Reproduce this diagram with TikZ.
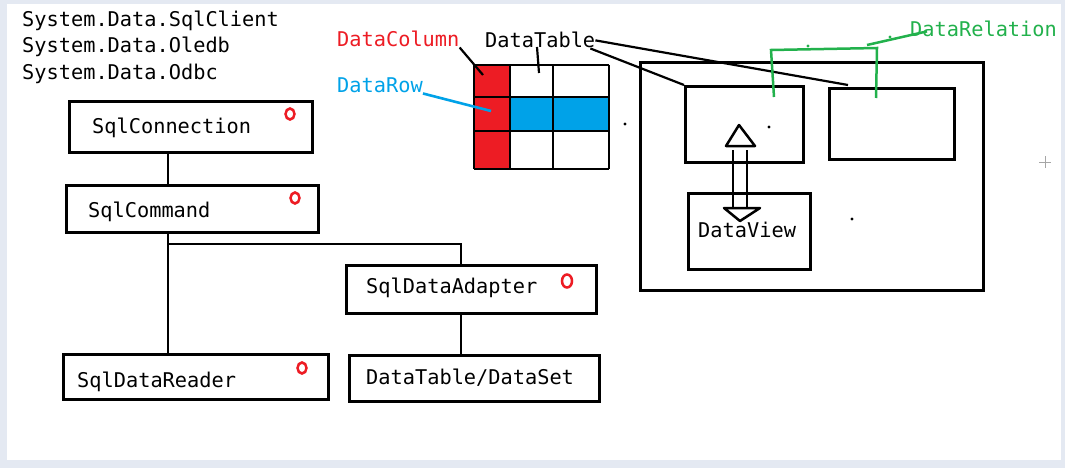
\documentclass[tikz,border=0pt]{standalone}
\usepackage{xcolor}
\usepackage{fontspec}
\usepackage{tikz}
\usetikzlibrary{calc}
\setmonofont{DejaVu Sans Mono}

\definecolor{pred}{RGB}{237,28,36}
\definecolor{pblue}{RGB}{0,162,232}
\definecolor{pgreen}{RGB}{34,177,76}
\definecolor{frame}{RGB}{228,233,242}

\tikzset{
  box/.style={draw=black, line width=2.9pt, anchor=north west, inner sep=0pt},
  txt/.style={anchor=base west, inner sep=0pt, font=\fontsize{20.3}{24}\selectfont\ttfamily},
  wire/.style={line width=2.9pt},
  ocirc/.style={draw=pred, line width=2.5pt},
}

\begin{document}
\begin{tikzpicture}[x=1pt,y=-1pt]
    \useasboundingbox (0,0) rectangle (1065,468);
    \fill[frame] (0,0) rectangle (1065,468);
    \fill[white] (7,4) rectangle (1061,460);

    % namespaces
    \node[txt] (ns1) at (22,27) {System.Data.SqlClient};
    \node[txt] (ns2) at (22,53) {System.Data.Oledb};
    \node[txt] (ns3) at (22,80) {System.Data.Odbc};

    % provider objects
    \node[box, minimum width=243pt, minimum height=51pt] (conn) at (68,100) {};
    \node[txt] (conn-txt) at (92,133) {SqlConnection};
    \node[box, minimum width=252pt, minimum height=47pt] (cmd) at (65,184) {};
    \node[txt] (cmd-txt) at (88,217) {SqlCommand};
    \node[box, minimum width=250pt, minimum height=48pt] (adapter) at (345,264) {};
    \node[txt] (adapter-txt) at (366,293) {SqlDataAdapter};
    \node[box, minimum width=265pt, minimum height=45pt] (reader) at (62,353) {};
    \node[txt] (reader-txt) at (77,387) {SqlDataReader};
    \node[box, minimum width=250pt, minimum height=46pt] (dtds) at (348,354) {};
    \node[txt] (dtds-txt) at (366,384) {DataTable/DataSet};

    \draw[ocirc] (290,114) ellipse (4.5 and 5.5);
    \draw[ocirc] (295,198) ellipse (4.5 and 5.5);
    \draw[ocirc] (567,281) ellipse (5 and 6.5);
    \draw[ocirc] (302,368) ellipse (4.5 and 5.5);

    \coordinate (trunk) at (168,244);
    \coordinate (drop) at (461,244);
    \draw[wire] (conn.south -| trunk) -- (cmd.north -| trunk);
    \draw[wire] (cmd.south -| trunk) -- (reader.north -| trunk);
    \draw[line width=2.2pt] (trunk) -- (drop) -- (adapter.north -| drop);
    \draw[wire] (adapter.south -| drop) -- (dtds.north -| drop);

    % the table
    \fill[pred] (474,65) rectangle (510,169);
    \fill[pblue] (510,97) rectangle (609,131);
    \foreach \x in {474,510,553,609}
      \draw[wire] (\x,65) -- (\x,169);
    \foreach \y in {65,97,131,169}
      \draw[wire] (474,\y) -- (609,\y);

    \node[txt, text=pred] (dc) at (337,47) {DataColumn};
    \node[txt, text=pblue] (dr) at (337,93) {DataRow};
    \node[txt] (dt) at (485,48) {DataTable};
    \coordinate (colpt) at (483,75);
    \coordinate (rowpt) at (491,111);
    \coordinate (cellpt) at (539,73);
    \draw[line width=2.2pt] (dc.south east) -- (colpt);
    \draw[line width=2.6pt, pblue] (dr.south east) -- (rowpt);
    \draw[line width=2.2pt] (537,47) -- (cellpt);

    \fill (625,124) circle (1.6);

    % the dataset
    \node[box, minimum width=343pt, minimum height=228pt] (ds) at (639,61) {};
    \node[box, minimum width=118pt, minimum height=76pt] (tab1) at (684,85) {};
    \node[box, minimum width=125pt, minimum height=71pt] (tab2) at (828,87) {};
    \node[box, minimum width=122pt, minimum height=76pt] (view) at (687,192) {};
    \node[txt] (view-txt) at (698,237) {DataView};

    \draw[line width=2.2pt] (dt.east) -- ($(tab2.north west)+(20,-2)$);
    \draw[line width=2.2pt] ($(dt.south east)+(-5,0)$) -- (tab1.north west);

    % open double arrow
    \draw[line width=2.5pt] (733,150) -- (733,208) (747,150) -- (747,208);
    \draw[line width=2.5pt, line join=round] (726,146) -- (739,125) -- (755,146) -- cycle;
    \draw[line width=2.5pt, line join=round] (724,208) -- (760,208) -- (740,221) -- cycle;

    \fill (769,127) circle (1.6);
    \fill (852,219) circle (1.6);

    % relation
    \node[txt, text=pgreen] (rel) at (910,37) {DataRelation};
    \coordinate (relA) at (774,97);
    \coordinate (relB) at (876,98);
    \draw[pgreen, line width=2.5pt] (relA) -- (771,50) -- (877,48) -- (relB);
    \draw[pgreen, line width=2.5pt] (867,45) -- ($(rel.west)+(17,2)$);
    \fill[pgreen] (808,46) circle (1.6);
    \fill[pgreen] (890,37) circle (1.6);

    % cursor
    \draw[gray!70, line width=0.9pt] (1039,162) -- (1051,162) (1045,156) -- (1045,168);
\end{tikzpicture}
\end{document}
